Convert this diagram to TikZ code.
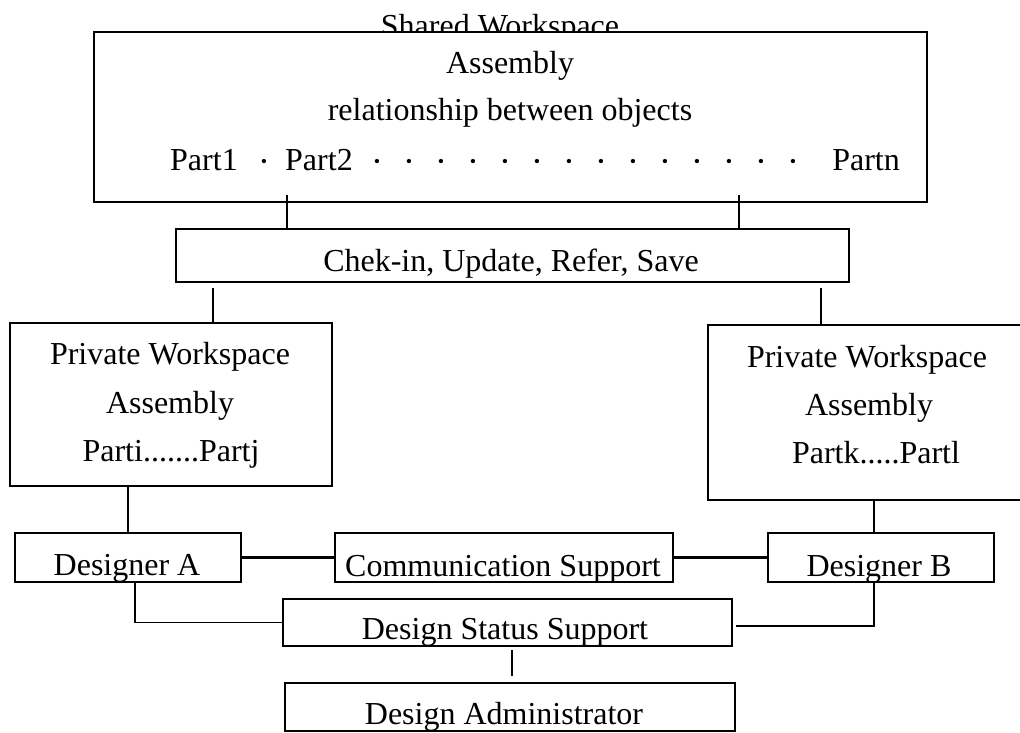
\documentclass[tikz,border=0pt]{standalone}
\usepackage{fontspec}
\setmainfont{Liberation Serif}
\begin{document}
\begin{tikzpicture}[x=1pt,y=-1pt,
  box/.style={draw, line width=1.9pt, fill=white, inner sep=0pt},
  lbl/.style={inner sep=0pt, anchor=base, font=\fontsize{32}{38}\selectfont},
  dotlbl/.style={inner sep=0pt, anchor=center, font=\fontsize{18}{18}\selectfont},
  conn/.style={line width=1.6pt},
  link/.style={line width=3pt}]
\useasboundingbox (0,0) rectangle (1020,733);
% title partly hidden by the box
\node[lbl] (tshared) at (500,37) {Shared Workspace};
% boxes
\node[box, minimum width=833pt, minimum height=170pt] (shared) at (510.5,117) {};
\node[box, minimum width=673pt, minimum height=53pt] (chek) at (512.5,255.5) {};
\node[box, minimum width=322pt, minimum height=163pt] (privL) at (171,404.5) {};
\node[box, minimum width=316pt, minimum height=175pt] (privR) at (866,412.5) {};
\node[box, minimum width=226pt, minimum height=49pt] (DA) at (128,557.5) {};
\node[box, minimum width=338pt, minimum height=49pt] (comm) at (504,557.5) {};
\node[box, minimum width=226pt, minimum height=49pt] (DB) at (881,557.5) {};
\node[box, minimum width=449pt, minimum height=47pt] (status) at (507.5,622.5) {};
\node[box, minimum width=450pt, minimum height=48pt] (admin) at (510,707) {};
% texts
\node[lbl] (tasm) at (510,74) {Assembly};
\node[lbl] (trel) at (510,121) {relationship between objects};
\node[lbl, anchor=base west] (tp1) at (170,170) {Part1};
\node[dotlbl] (d0) at (264,163) {•};
\node[lbl, anchor=base west] (tp2) at (285,170) {Part2};
\foreach \i in {0,...,13} {\node[dotlbl] (dd\i) at (377+32*\i,163) {•};}
\node[lbl, anchor=base east] (tpn) at (900,170) {Partn};
\node[lbl] (tchek) at (511,271) {Chek-in, Update, Refer, Save};
\node[lbl] (tpl1) at (170,364) {Private Workspace};
\node[lbl] (tpl2) at (170,413) {Assembly};
\node[lbl] (tpl3) at (171,461) {Parti.......Partj};
\node[lbl] (tpr1) at (867,367) {Private Workspace};
\node[lbl] (tpr2) at (869,415) {Assembly};
\node[lbl] (tpr3) at (876,463) {Partk.....Partl};
\node[lbl] (tda) at (127,575) {Designer A};
\node[lbl] (tcomm) at (503,576) {Communication Support};
\node[lbl] (tdb) at (879,576) {Designer B};
\node[lbl] (tstat) at (505,639) {Design Status Support};
\node[lbl] (tadm) at (504,724) {Design Administrator};
% connector x positions
\coordinate (c1) at (287,0);
\coordinate (c2) at (739,0);
\coordinate (c3) at (213,0);
\coordinate (c4) at (821,0);
\coordinate (c5) at (128,0);
\coordinate (c6) at (874,0);
\coordinate (c7) at (135,0);
\coordinate (c9) at (512,0);
\coordinate (sb) at (874,626);
% connectors
\draw[conn, shorten <=-8pt] (shared.south -| c1) -- (chek.north -| c1);
\draw[conn, shorten <=-8pt] (shared.south -| c2) -- (chek.north -| c2);
\draw[conn, shorten <=5pt] (chek.south -| c3) -- (privL.north -| c3);
\draw[conn, shorten <=5pt] (chek.south -| c4) -- (privR.north -| c4);
\draw[conn] (privL.south -| c5) -- (DA.north -| c5);
\draw[conn] (privR.south -| c6) -- (DB.north -| c6);
\draw[link] (DA.east) -- (comm.west);
\draw[link] (comm.east) -- (DB.west);
\draw[conn] (DA.south -| c7) |- (status.west);
\draw[conn, shorten >=3pt] (DB.south -| sb) -- (sb) -- (sb -| status.east);
\draw[conn, shorten <=3pt, shorten >=6pt] (status.south -| c9) -- (admin.north -| c9);
\end{tikzpicture}
\end{document}
